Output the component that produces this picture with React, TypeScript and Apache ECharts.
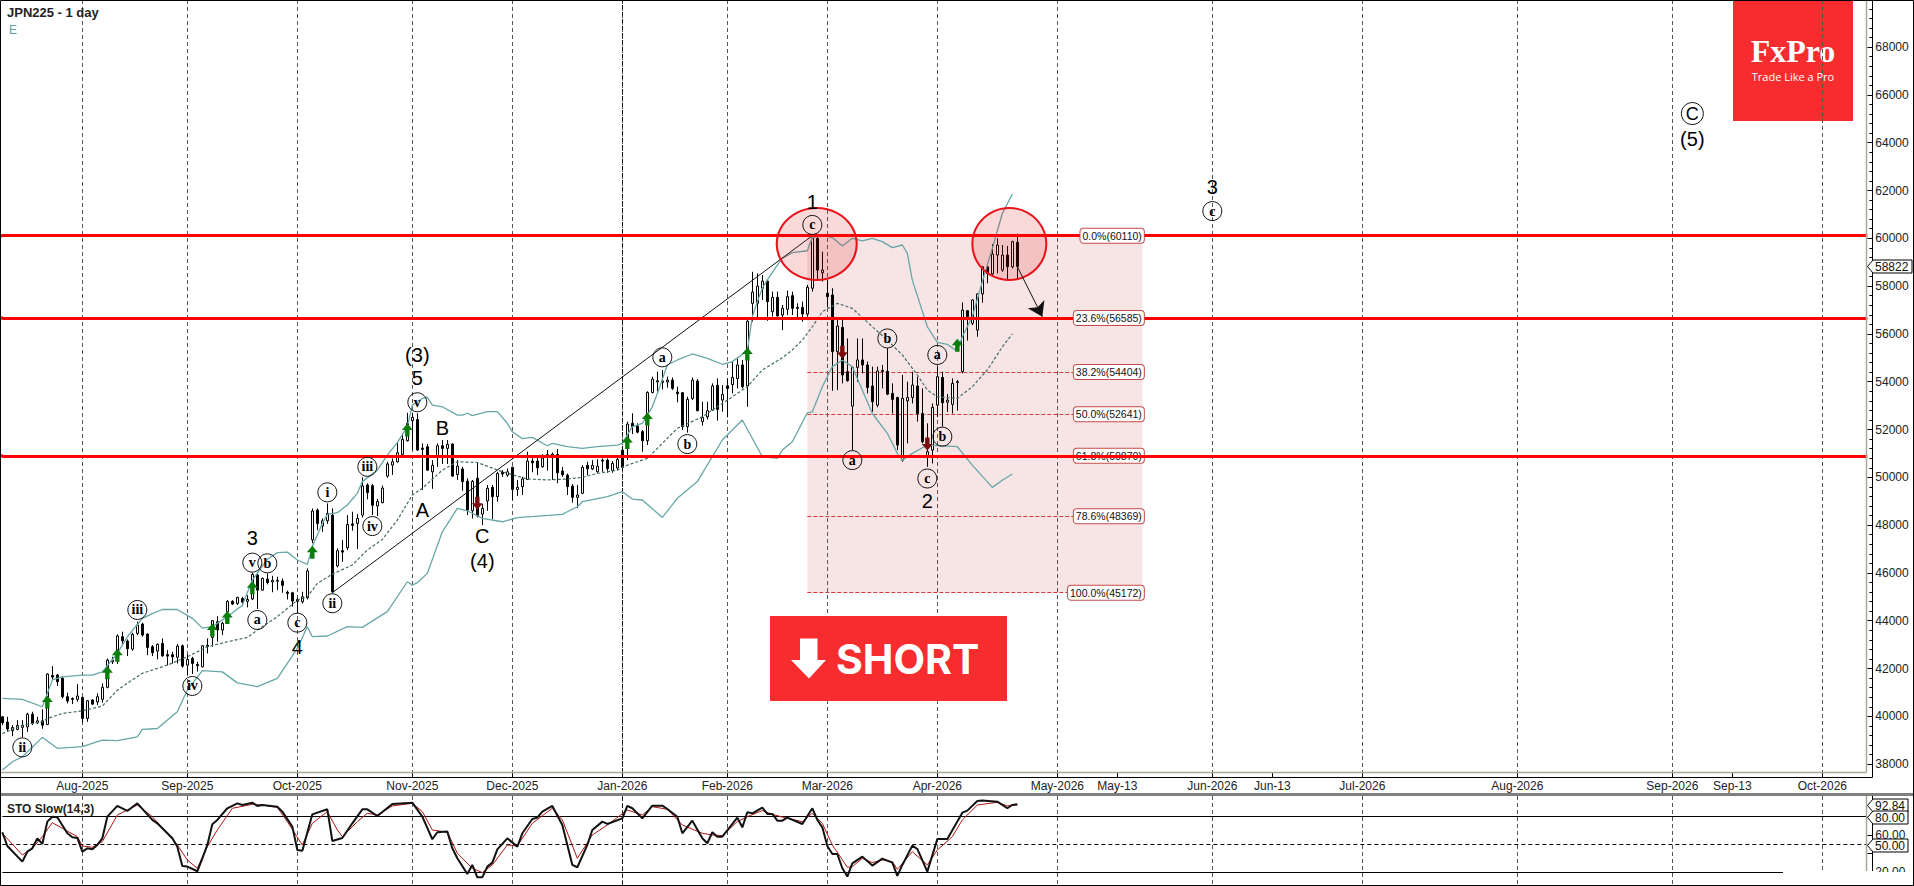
import React, { useEffect, useRef } from "react";
import * as echarts from "echarts";

// ---- axis labels ----
const tickSlots = [16, 37, 59, 82, 102, 124, 145, 165, 187, 211, 223, 242, 254, 272, 303, 334, 346, 364];
const tickTexts = ["Aug-2025", "Sep-2025", "Oct-2025", "Nov-2025", "Dec-2025", "Jan-2026", "Feb-2026", "Mar-2026", "Apr-2026", "May-2026", "May-13", "Jun-2026", "Jun-13", "Jul-2026", "Aug-2026", "Sep-2026", "Sep-13", "Oct-2026"];
const tickOnly = [223, 254, 346];
const priceTicks = [38000, 40000, 42000, 44000, 46000, 48000, 50000, 52000, 54000, 56000, 58000, 60000, 62000, 64000, 66000, 68000];

// ---- daily candles: open, close, low, high ----
const candles = [
[39980,39730,39630,40010],[39760,39470,39350,39980],[39400,39530,39170,39630],[39450,39620,39420,39840],[39540,39620,39120,39840],
[39560,40090,39350,40150],[40090,39700,39630,40190],[39730,39810,39680,39980],[39810,39630,39480,40290],[39660,41770,39630,41800],
[41710,41640,41520,42100],[41730,41450,41270,41770],[41590,40820,40750,41680],[40820,40640,40540,40990],[40750,40710,40510,40790],
[40710,40850,40610,41350],[40790,39910,39730,40820],[39910,40650,39770,40680],[40680,40510,40470,40720],[40600,40820,40470,40960],
[40710,41210,40570,41380],[41210,42350,41170,42420],[42280,42350,42190,42490],[42490,43360,42190,43430],[43330,43160,42980,43540],
[43150,42830,42520,43220],[42810,43430,42740,43500],[43470,43820,43400,43960],[43860,43400,43330,43920],[43440,42880,42560,43470],
[42910,42660,42520,42980],[42730,43010,42380,43050],[43050,42530,42490,43260],[42580,42520,42140,42770],[42580,42490,42210,42700],
[42470,42940,42210,43020],[42950,42100,42030,43010],[42140,42380,41730,42600],[42420,42210,41770,42490],[42170,42120,41870,42280],
[42070,42950,42050,42980],[42970,42920,42630,43260],[43300,44000,42910,44030],[43960,43610,43120,44190],[43610,43890,43400,43960],
[44380,44810,43960,44860],[44810,44700,44660,44860],[44720,44980,44660,45000],[44930,44780,44610,45000],[44810,44890,44560,45070],
[44910,45940,44860,46010],[45910,45280,44490,45980],[45280,45770,45260,45810],[45740,45600,45520,45980],[45620,45690,45190,45880],
[45650,45690,45280,45840],[45660,45480,45170,45770],[45190,45140,44890,45260],[45170,44820,44590,45210],[44890,44810,44310,44980],
[44790,45000,44720,45210],[44960,46080,44890,46190],[47380,48590,47240,48700],[48630,48070,47790,48700],[47960,48180,47720,48280],
[48180,48490,48050,48910],[48420,45210,45170,48700],[46290,46930,46230,47030],[46930,46870,46470,47380],[47050,48030,46960,48420],
[48050,47990,47770,48560],[48070,48280,47000,48460],[48420,49640,48320,50000],[49680,49360,49080,49750],[49650,48830,48420,49720],
[48800,48990,48380,49100],[48940,49550,48910,49660],[50050,50560,49980,50650],[50510,50650,50100,50790],[50650,51030,50610,51490],
[50960,51590,50930,51840],[51530,52260,51500,52700],[52370,52510,51140,52700],[52420,51140,51110,52680],[51220,51170,49470,51420],
[51280,50300,50280,51390],[50230,50500,49520,50720],[50860,51320,50440,51420],[51320,51210,50560,51560],[51210,51380,50560,51560],
[51390,50050,50020,51420],[50120,50470,49890,50720],[50350,49820,49440,50440],[49840,48630,48420,49960],[48600,49830,48280,49890],
[49960,48380,48320,50610],[48460,48700,48000,48880],[49010,49540,48600,49680],[49580,49190,48240,49680],[49190,50160,48980,50230],
[50210,50140,50020,50300],[50090,50230,50020,50370],[50420,49490,49050,50440],[49490,49580,49220,49890],[49610,49930,49260,50020],
[49910,50680,49890,51070],[50680,50610,50210,50830],[50680,50400,50090,50830],[50440,50810,50400,50970],[50890,50950,50280,51140],
[50920,50970,49890,51040],[50950,50190,49750,51180],[50260,50110,50020,50440],[50090,49610,49260,50160],[49630,49160,48940,49720],
[49160,49260,48710,49680],[49330,50420,49300,50510],[50500,50360,50090,50650],[50350,50500,50300,50720],[50230,50470,50190,50760],
[50720,50680,50230,50790],[50720,50360,50190,50790],[50280,50580,50190,50680],[50390,50750,50300,50820],[51140,50420,50300,51170],
[51280,52230,50720,52330],[52260,52120,51810,52680],[52150,51890,51840,52260],[51910,51530,51070,51980],[51530,53550,51350,53600],
[53550,54110,53510,54210],[53990,54040,53580,54420],[53970,54030,53680,54490],[53990,54070,53750,54210],[54070,53720,53650,54180],
[53570,53500,53140,53790],[53540,52120,51980,53570],[52120,53260,51870,53370],[53300,54070,53230,54180],[54030,52790,52760,54110],
[52330,52510,52160,53160],[52530,52790,52420,53160],[52810,53820,52790,53930],[53850,52840,52370,54140],[53230,53470,52750,53860],
[53830,53720,52510,54140],[53880,54180,53510,54840],[54130,54700,53720,54980],[54700,53790,53720,54910],[53820,56530,52950,56580],
[57280,57750,56510,58600],[57280,58000,56650,58530],[57910,58210,57420,58460],[58210,57350,56550,58260],[56930,57530,56720,57770],
[57530,56750,56720,57770],[56790,57070,56160,57210],[57030,57560,56790,57810],[57600,57070,56790,57770],[57110,57070,56650,57280],
[57110,56830,56510,57350],[56830,57950,56720,58050],[57910,60000,57770,60110],[60000,58670,58230,60110],[58560,58670,58190,59440],
[57700,57560,57110,58260],[57630,55260,53620,57910],[55260,56330,53650,56580],[56270,54280,53930,56580],[54420,54040,54000,55810],
[52980,54600,51140,54630],[54600,54910,54000,55810],[54910,54700,54350,55810],[54700,53760,53510,54840],[53820,53160,52740,54630],
[53020,54450,52930,54630],[54470,54430,53720,54700],[54430,53480,53440,55400],[53510,53260,52670,53930],[53340,51350,51140,53370],
[50720,53300,50650,54280],[53200,53340,51420,54000],[53340,53860,53090,54420],[53820,52670,52330,54210],[52670,51490,51420,53720],
[50890,51070,50440,52260],[51140,52930,50580,53090],[53020,54210,52530,54630],[54180,53120,52120,54420],[53140,53230,52740,53480],
[53050,53930,52670,54140],[53960,54000,52790,54070],[54420,57000,54350,57320],[56970,56720,55720,57000],[56440,57420,56370,57450],
[56160,57670,55880,57700],[57670,58810,57310,58840],[58810,58530,58120,58840],[58510,59340,58460,59760],[59300,59720,58530,60000],
[58670,59300,58600,59720],[59300,58810,58250,59680],[58810,59860,58740,59900],[59830,58820,58250,60200],
];

// ---- Bollinger bands: bar number, price ----
const bbUpper = [[0,40750],[4,40710],[8,40400],[9,40960],[10,41520],[12,41650],[16,41720],[18,41720],[20,41860],[23,42630],[25,43330],[28,44100],[30,44300],[32,44470],[35,44470],[38,44100],[40,43690],[42,43750],[45,44170],[48,44650],[50,45700],[53,46570],[55,46850],[57,46870],[59,46540],[61,46360],[62,47100],[64,48070],[65,48450],[67,48520],[69,48840],[71,49330],[72,49820],[75,50300],[77,50930],[79,51450],[81,52120],[82,53020],[83,53160],[84,53300],[85,53350],[86,53020],[88,52950],[91,52600],[92,52600],[93,52680],[94,52580],[97,52750],[99,52750],[101,52260],[102,51910],[104,51620],[106,51670],[109,51320],[110,51420],[113,51280],[116,51210],[119,51280],[123,51350],[124,51420],[126,52120],[128,52260],[130,52950],[131,53510],[133,54700],[135,54910],[138,55160],[141,54980],[144,54730],[146,54840],[149,55300],[150,56720],[151,57350],[152,57910],[153,58260],[155,58880],[156,59160],[158,59400],[161,59480],[162,60030],[164,60110],[166,60030],[168,59680],[170,60000],[172,59890],[174,60000],[176,59860],[178,59610],[180,59720],[181,59370],[182,58250],[185,56300],[187,55650],[189,55560],[191,55280],[192,55880],[194,56720],[196,58190],[198,59580],[200,61040],[202,61850]];
const bbMiddle = [[0,39280],[4,39630],[8,39770],[9,39910],[12,40120],[16,40230],[20,40430],[23,41100],[28,41800],[33,42140],[37,42490],[41,42910],[45,43120],[49,43300],[51,43610],[55,44170],[59,44860],[61,45000],[63,45560],[66,45950],[70,46330],[73,46960],[76,47400],[79,48210],[81,48910],[82,49260],[84,49540],[88,50300],[91,50650],[95,50620],[100,50230],[105,49930],[109,49890],[113,49930],[116,50000],[119,50160],[123,50300],[125,50510],[129,50790],[131,51210],[135,52050],[140,52530],[144,53090],[149,53790],[152,54490],[156,55000],[158,55330],[160,55740],[162,56300],[164,56930],[167,57280],[170,57070],[174,56300],[177,55740],[180,55120],[183,54280],[185,53650],[187,53370],[191,53300],[194,53790],[197,54490],[200,55460],[202,56000]];
const bbLower = [[0,37750],[2,38100],[4,38310],[8,39120],[11,38660],[16,38730],[20,39000],[23,38980],[27,39140],[28,39450],[31,39490],[35,40190],[37,41100],[40,41910],[44,41860],[47,41400],[51,41240],[55,41590],[59,42840],[61,43750],[62,43330],[65,43360],[69,43750],[72,43720],[77,44380],[81,45630],[82,45490],[83,45590],[85,45980],[88,47720],[91,48700],[93,48600],[96,48280],[100,48140],[103,48310],[112,48450],[113,48560],[115,48770],[116,48980],[121,49190],[124,49400],[126,49090],[128,49050],[132,48320],[135,49120],[139,49820],[144,51560],[148,52400],[152,50860],[155,50790],[156,51140],[158,51490],[161,52700],[162,52740],[164,53790],[166,54630],[168,54900],[170,54630],[174,52670],[177,51840],[179,51000],[180,50720],[182,51000],[185,51350],[191,51280],[194,50510],[198,49580],[200,49880],[202,50140]];

// ---- Stochastic slow (14,3): bar number, value ----
const stoK = [[0,62.9],[1,48.2],[4,31.4],[5,42.1],[6,45.7],[7,56.4],[8,50.4],[9,74.3],[10,79.6],[11,78.9],[13,61.8],[14,57.5],[15,56.8],[16,42.1],[17,45.7],[18,44.6],[19,49.3],[20,56.4],[21,79.6],[23,91.1],[25,85.7],[27,93.9],[30,76.1],[31,72.5],[34,56.4],[35,47.5],[36,26.8],[37,26.1],[39,21.1],[40,35],[41,49.3],[42,71.4],[43,76.1],[45,88.6],[47,93.9],[48,92.1],[50,94.6],[51,91.1],[52,92.1],[55,90.3],[56,85],[58,68.9],[59,43.9],[60,43.2],[62,82.1],[65,87.5],[66,53.6],[68,56.8],[70,72.5],[72,87.5],[73,87.5],[75,80.3],[78,93.2],[82,94.6],[84,79.6],[86,55.4],[87,62.9],[89,63.6],[90,45.7],[91,35],[93,18.2],[94,27.9],[95,14.7],[96,14.7],[97,26.1],[98,30.4],[99,44.6],[101,56.4],[103,47.5],[104,61.8],[106,77.1],[107,78.6],[108,85],[110,91.1],[112,70.7],[114,27.9],[115,25.4],[117,49.3],[118,65.4],[120,74.3],[121,71.8],[124,77.8],[125,91.1],[126,88.6],[128,77.8],[130,91.4],[132,91.4],[133,87.8],[135,79.6],[136,61.8],[138,75.3],[140,56.4],[141,51.1],[142,62.9],[143,58.2],[144,58.2],[147,78.6],[148,68.2],[149,84.3],[150,83.2],[152,89.3],[153,82.5],[154,82.5],[155,75.3],[156,75.3],[157,78.6],[160,71.8],[162,88.6],[163,76.1],[164,68.2],[165,48.2],[166,39.6],[167,39.6],[168,24.3],[169,15.4],[170,29.6],[172,36.8],[174,27.2],[176,34.6],[178,30.4],[179,16.1],[180,27.9],[182,48.6],[183,45],[185,20.7],[187,55.7],[189,55.7],[192,83.9],[193,86.1],[195,96.4],[196,96.8],[199,95.7],[201,88.6],[202,92.1],[203,92.84]];
const stoD = [[0,61.8],[4,38.6],[6,45.7],[8,58.2],[10,73.2],[12,67.1],[15,58.2],[16,48.2],[18,46.8],[20,52.9],[23,81.4],[25,86.8],[27,92.1],[30,79.6],[33,61.8],[35,49.3],[37,33.2],[39,24.3],[41,47.5],[43,65.4],[46,88.6],[50,92.8],[52,92.1],[55,89.6],[57,74.3],[60,49.3],[62,72.5],[65,85],[67,65.4],[68,58.2],[71,74.3],[73,83.2],[75,81.4],[78,91.1],[82,93.9],[84,85],[86,65.4],[89,62.9],[91,40.4],[94,24.3],[96,19.7],[98,27.9],[101,49.3],[103,48.2],[106,72.5],[110,88.6],[112,76.1],[115,35],[118,60],[121,70.7],[125,86.8],[128,81.4],[130,90.3],[133,87.5],[136,70.7],[140,61.8],[142,60],[144,59.3],[147,74.3],[149,79.6],[152,86.1],[154,82.1],[157,77.8],[160,74.3],[162,83.2],[164,72.5],[166,49.3],[169,25.4],[170,26.1],[172,35],[174,30.4],[176,33.2],[178,31.4],[179,23.2],[182,42.1],[185,27.9],[187,43.9],[190,58.2],[192,76.1],[195,92.1],[199,95],[201,91.1],[202,92.1],[203,92]];

// ---- annotations: bar number, price, text ----
const circledLabels: [number, number, string][] = [[4,38700,"ii"],[27,44450,"iii"],[38,41270,"iv"],[51,44030,"a"],[50,46430,"v"],[53,46400,"b"],[59,43920,"c"],[66,44730,"ii"],[65,49370,"i"],[73,50440,"iii"],[74,47960,"iv"],[83,53140,"v"],[132,55020,"a"],[137,51390,"b"],[162,60560,"c"],[170,50720,"a"],[177,55810,"b"],[187,55120,"a"],[188,51700,"b"],[185,49950,"c"],[242,61140,"c"]];
const waveLabels: [number, number, string][] = [[50,47440,"3"],[59,42910,"4"],[83,55120,"(3)"],[83,54140,"5"],[84,48630,"A"],[88,52080,"B"],[96,47540,"C"],[96,46500,"(4)"],[162,61500,"1"],[185,49020,"2"],[242,62150,"3"],[338,64160,"(5)"]];
const bigCircled: [number, number, string][] = [[338,65220,"C"]];
const greenArrows = [[9,40600],[21,41820],[23,42550],[42,43610],[45,44130],[50,45380],[62,46860],[81,51980],[125,51460],[129,52440],[149,55160],[191,55530]];
const redArrows = [[95,48910],[168,55230],[185,51390]];
const trendLine = [[66,45170],[162,60110]];
const targetArrow = [[203,58812],[208,56720]];
const redLevelsUpper = [60110, 56670];
const redLevelsLower = [50900];
const fibLevels: [number, string, boolean][] = [
  [60110, "0.0%(60110)", false],
  [56670, "23.6%(56585)", false],
  [54404, "38.2%(54404)", true],
  [52641, "50.0%(52641)", true],
  [50900, "61.8%(50870)", false],
  [48369, "78.6%(48369)", true],
  [45172, "100.0%(45172)", true],
];
const stoLevels = [80, 50, 20];

const SLOTS = 374;
const BAR = 5;
const LEFT = 2.33;
const categories = Array.from({ length: SLOTS }, (_, i) => {
  const t = tickSlots.indexOf(i);
  return t >= 0 ? tickTexts[t] : String(i);
});
const tickSet = new Set(tickSlots);
const splitSet = new Set(tickSlots.filter((k) => !tickOnly.includes(k)));
const minorPrices: number[] = [];
for (let p = 38000; p <= 69600; p += 400) if (p % 2000 !== 0) minorPrices.push(p);

const UI = "'Liberation Sans', Arial, sans-serif";
const DASH = { color: "#555", type: [4, 3] as any, width: 1 };

function option(): any {
  const xCommon = {
    type: "category",
    data: categories,
    boundaryGap: false,
    offset: 5,
    axisLine: { show: false, onZero: false },
  };
  const circledSeries = (data: [number, number, string][], size: number, font: string, fs: number, bold: boolean) => ({
    type: "scatter",
    z: 8,
    silent: true,
    clip: false,
    symbol: "circle",
    symbolSize: size,
    itemStyle: { color: "rgba(255,255,255,0)", borderColor: "#111", borderWidth: 1, opacity: 1 },
    label: { show: true, position: "inside", formatter: "{b}", fontFamily: font, fontSize: fs, fontWeight: bold ? "bold" : "normal", color: "#000" },
    data: data.map((d) => ({ name: d[2], value: [d[0], d[1]] })),
  });
  return {
    animation: false,
    backgroundColor: "#fff",
    tooltip: { show: false },
    grid: [
      { left: LEFT, top: 0, width: BAR * (SLOTS - 1), height: 772 },
      { left: LEFT, top: 796, width: BAR * (SLOTS - 1), height: 89 },
    ],
    xAxis: [
      {
        ...xCommon,
        gridIndex: 0,
        axisTick: { show: true, inside: true, length: 5, interval: (i: number) => tickSet.has(i), lineStyle: { color: "#000" } },
        axisLabel: { show: true, interval: (i: number) => tickSet.has(i), margin: 3, fontFamily: UI, fontSize: 12, color: "#222" },
        splitLine: { show: true, interval: (i: number) => splitSet.has(i), lineStyle: DASH },
      },
      {
        ...xCommon,
        gridIndex: 1,
        offset: 0,
        axisTick: { show: false },
        axisLabel: { show: false },
        splitLine: { show: true, interval: (i: number) => splitSet.has(i), lineStyle: DASH },
      },
    ],
    yAxis: [
      {
        type: "value",
        gridIndex: 0,
        position: "right",
        offset: 5,
        min: 37670,
        max: 69971,
        axisLine: { show: false },
        splitLine: { show: false },
        axisTick: { show: true, inside: true, length: 5, customValues: priceTicks, lineStyle: { color: "#000" } },
        axisLabel: { show: true, customValues: priceTicks, margin: 3, fontFamily: UI, fontSize: 12, color: "#222", formatter: (v: number) => String(v) },
      },
      {
        type: "value",
        gridIndex: 0,
        position: "right",
        offset: 5,
        min: 37670,
        max: 69971,
        axisLine: { show: false },
        splitLine: { show: false },
        axisTick: { show: true, inside: true, length: 3, customValues: minorPrices, lineStyle: { color: "#000" } },
        axisLabel: { show: false },
      },
      {
        type: "value",
        gridIndex: 1,
        position: "right",
        offset: 5,
        min: 6.4,
        max: 101.75,
        axisLine: { show: false },
        splitLine: { show: false },
        axisTick: { show: true, inside: true, length: 5, customValues: [60, 40], lineStyle: { color: "#000" } },
        axisLabel: { show: true, customValues: [60, 20], margin: 3, fontFamily: UI, fontSize: 12, color: "#222", formatter: (v: number) => v.toFixed(2) },
      },
    ],
    series: [
      // Fibonacci zone
      {
        type: "line",
        data: [],
        silent: true,
        markArea: {
          silent: true,
          z: 1,
          itemStyle: { color: "rgba(205,80,80,0.155)" },
          data: [[{ coord: [161, 60110] }, { coord: [228, 45172] }]],
        },
        markLine: {
          silent: true,
          z: 1,
          symbol: "none",
          label: { show: false },
          lineStyle: { color: "#cf3d3d", type: [4, 2], width: 1 },
          data: fibLevels.filter((f) => f[2]).map((f) => [{ coord: [161, f[0]] }, { coord: [225, f[0]] }]),
        },
      },
      // January dark grid line
      {
        type: "line",
        data: [],
        silent: true,
        markLine: {
          silent: true, z: 1, symbol: "none", label: { show: false },
          lineStyle: { color: "#111", type: [4, 3], width: 1 },
          data: [{ xAxis: 124 }],
        },
      },
      {
        type: "candlestick",
        silent: true,
        z: 2,
        barWidth: 3,
        encode: { x: 0, y: [1, 2, 3, 4] },
        itemStyle: { color: "#fff", color0: "#000", borderColor: "#000", borderColor0: "#000", borderWidth: 1 },
        data: candles.map((c, i) => [i, c[0], c[1], c[2], c[3]]),
      },
      ...[bbUpper, bbLower].map((d) => ({
        type: "line", silent: true, z: 3, symbol: "none", data: d,
        lineStyle: { color: "#68a6a8", width: 1.3 },
      })),
      {
        type: "line", silent: true, z: 3, symbol: "none", data: bbMiddle,
        lineStyle: { color: "#466a6b", width: 1.2, type: [3, 2] },
      },
      {
        type: "line", silent: true, z: 3, symbol: "none", data: trendLine,
        lineStyle: { color: "#111", width: 1 },
      },
      // heavy horizontal levels
      {
        type: "line", data: [], silent: true,
        markLine: {
          silent: true, z: 4, symbol: "none", label: { show: false },
          lineStyle: { color: "#ff0000", type: "solid", width: 3 },
          data: redLevelsUpper.map((v) => ({ yAxis: v })),
        },
      },
      // target arrow
      {
        type: "line", data: [], silent: true,
        markLine: {
          silent: true, z: 8, symbol: ["none", "arrow"], symbolSize: 14, label: { show: false },
          lineStyle: { color: "#111", type: "solid", width: 1 },
          data: [[{ coord: targetArrow[0] }, { coord: targetArrow[1] }]],
        },
      },
      // fib labels
      {
        type: "scatter", silent: true, z: 5, symbol: "circle", symbolSize: 1,
        itemStyle: { color: "rgba(0,0,0,0)", opacity: 1 },
        label: {
          show: true, position: "left", distance: -2, formatter: "{b}", fontFamily: UI, fontSize: 10.5, color: "#111",
          backgroundColor: "#fff", borderColor: "#c84a4a", borderWidth: 1, borderRadius: 3, padding: [2, 2, 1, 2],
        },
        data: fibLevels.map((f) => ({ name: f[1], value: [228, f[0]] })),
      },
      {
        type: "line", data: [], silent: true,
        markLine: {
          silent: true, z: 6, symbol: "none", label: { show: false },
          lineStyle: { color: "#ff0000", type: "solid", width: 3 },
          data: redLevelsLower.map((v) => ({ yAxis: v })),
        },
      },
      // highlight rings
      {
        type: "scatter", silent: true, z: 7, symbol: "circle",
        itemStyle: { color: "rgba(225,20,20,0.16)", borderColor: "#e8141c", borderWidth: 2, opacity: 1 },
        data: [
          { value: [163, 59762], symbolSize: [80, 72], symbolOffset: [-0.6, 0] },
          { value: [201, 59762], symbolSize: [74, 72], symbolOffset: [2, 0] },
        ],
      },
      // signal arrows
      {
        type: "scatter", silent: true, z: 7, symbol: "path://M5 0 L10 6 L7 6 L7 12 L3 12 L3 6 L0 6 Z", symbolSize: [11, 13],
        itemStyle: { color: "#0a7d0a", opacity: 1 }, data: greenArrows,
      },
      {
        type: "scatter", silent: true, z: 7, symbol: "path://M3 0 L7 0 L7 6 L10 6 L5 12 L0 6 L3 6 Z", symbolSize: [11, 13],
        itemStyle: { color: "#7c0a0a", opacity: 1 }, data: redArrows,
      },
      // wave labels
      circledSeries(circledLabels, 19, "'Liberation Serif', serif", 14, true),
      circledSeries(bigCircled, 22, UI, 18, false),
      {
        type: "scatter", silent: true, z: 8, symbol: "circle", symbolSize: 1, clip: false,
        itemStyle: { color: "rgba(0,0,0,0)", opacity: 1 },
        label: { show: true, position: "inside", formatter: "{b}", fontFamily: UI, fontSize: 20, color: "#000" },
        data: waveLabels.map((d) => ({ name: d[2], value: [d[0], d[1]] })),
      },
      // stochastic
      {
        type: "line", xAxisIndex: 1, yAxisIndex: 2, silent: true, symbol: "none", z: 3, data: stoD,
        lineStyle: { color: "#b01515", width: 1 },
      },
      {
        type: "line", xAxisIndex: 1, yAxisIndex: 2, silent: true, symbol: "none", z: 4, data: stoK,
        lineStyle: { color: "#111", width: 2 },
      },
      {
        type: "line", xAxisIndex: 1, yAxisIndex: 2, data: [], silent: true,
        markLine: {
          silent: true, z: 2, symbol: "none", label: { show: false },
          data: stoLevels.map((v) => ({ yAxis: v, lineStyle: { color: "#000", width: 1, type: v === 50 ? [4, 3] : "solid" } })),
        },
      },
      {
        type: "line", xAxisIndex: 1, yAxisIndex: 2, data: [], silent: true,
        markLine: {
          silent: true, z: 1, symbol: "none", label: { show: false },
          lineStyle: { color: "#111", type: [4, 3], width: 1 },
          data: [{ xAxis: 124 }],
        },
      },
    ],
    graphic: { elements: frame() },
  };
}

function pointerBox(y: number, text: string, right: number, z: number): any[] {
  return [
    {
      type: "polygon", z, silent: true,
      shape: { points: [[1867.5, y], [1873, y - 6.5], [right, y - 6.5], [right, y + 6.5], [1873, y + 6.5]] },
      style: { fill: "#fff", stroke: "#000", lineWidth: 1 },
    },
    {
      type: "text", z: z + 1, silent: true, x: 1875, y,
      style: { text, fill: "#111", font: `12px ${UI}`, verticalAlign: "middle" },
    },
  ];
}

function line(x1: number, y1: number, x2: number, y2: number, stroke: string, lineWidth: number, z = 30): any {
  return { type: "line", z, silent: true, shape: { x1, y1, x2, y2 }, style: { stroke, lineWidth } };
}

function frame(): any[] {
  const OLIVE = "#a9a996";
  return [
    // logo, below the grid lines
    { type: "rect", z: -1, silent: true, shape: { x: 1733, y: 0, width: 120, height: 121 }, style: { fill: "#f62c2e" } },
    { type: "text", z: -1, silent: true, x: 1793, y: 51, style: { text: "FxPro", fill: "#fff", font: "bold 32px 'Liberation Serif', serif", align: "center", verticalAlign: "middle" } },
    { type: "text", z: -1, silent: true, x: 1793, y: 76.5, style: { text: "Trade Like a Pro", fill: "#fff", font: "11px 'Open Sans', sans-serif", align: "center", verticalAlign: "middle" } },

    // SHORT button
    { type: "rect", z: 40, silent: true, shape: { x: 770, y: 616, width: 237, height: 85 }, style: { fill: "#f62c2e" } },
    { type: "polygon", z: 41, silent: true, shape: { points: [[800, 638.5], [817.5, 638.5], [817.5, 660], [826, 660], [809, 678.5], [791, 660], [800, 660]] }, style: { fill: "#fff" } },
    { type: "text", z: 41, silent: true, x: 836, y: 659, style: { text: "SHORT", fill: "#fff", font: "bold 41px Inter, sans-serif", verticalAlign: "middle" } },

    // titles
    { type: "text", z: 30, silent: true, x: 7, y: 12, style: { text: "JPN225 - 1 day", fill: "#222", font: `bold 13px ${UI}`, verticalAlign: "middle" } },
    { type: "text", z: 30, silent: true, x: 9, y: 30, style: { text: "E", fill: "#5f9ea0", font: `12px ${UI}`, verticalAlign: "middle" } },
    { type: "text", z: 30, silent: true, x: 7, y: 809, style: { text: "STO Slow(14,3)", fill: "#222", font: `bold 12px ${UI}`, verticalAlign: "middle" } },

    // red levels reach the left border
    line(0, 235.7, 3, 235.7, "#ff0000", 3, 29),
    line(0, 318, 3, 318, "#ff0000", 3, 29),
    line(0, 455.9, 3, 455.9, "#ff0000", 3, 29),

    // frame lines
    line(0, 772.5, 1866.5, 772.5, OLIVE, 1.5),
    line(1866.5, 0, 1866.5, 772, OLIVE, 1.5),
    line(0, 777.5, 1872.5, 777.5, "#000", 1),
    line(1872.5, 0, 1872.5, 777.5, "#000", 1),
    line(0, 794.5, 1914, 794.5, "#808080", 3),
    line(1866.5, 796, 1866.5, 871, OLIVE, 1.5),
    line(1872.5, 796, 1872.5, 871, "#000", 1),

    // latest readings
    ...pointerBox(266.5, "58822", 1912, 31),
    ...pointerBox(805.5, "92.84", 1908, 33),
    ...pointerBox(817.5, "80.00", 1908, 35),
    ...pointerBox(845.5, "50.00", 1908, 37),

    // masked lower right of the panel
    { type: "rect", z: 45, silent: true, shape: { x: 1783, y: 872, width: 131, height: 13 }, style: { fill: "#fff" } },
    { type: "rect", z: 46, silent: true, shape: { x: 0.5, y: 0.5, width: 1913, height: 885 }, style: { fill: "none", stroke: "#000", lineWidth: 1 } },
  ];
}

export default function App() {
  const ref = useRef<HTMLDivElement>(null);
  useEffect(() => {
    document.body.style.margin = "0";
    document.body.style.overflow = "hidden";
    const chart = echarts.init(ref.current!, undefined, { renderer: "svg" });
    chart.setOption(option());
    return () => chart.dispose();
  }, []);
  return <div ref={ref} style={{ width: 1914, height: 886, background: "#fff" }} />;
}
